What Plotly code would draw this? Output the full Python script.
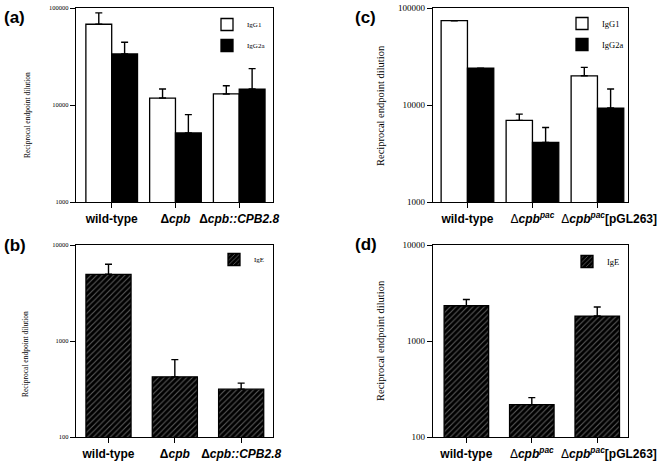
import plotly.graph_objects as go

# ---------------- data ----------------
cats_left = ["wild-type", "Δcpb", "Δcpb::CPB2.8"]
ticks_left = ["wild-type", "Δ<i>cpb</i>", "Δ<i>cpb::CPB2.8</i>"]
cats_right = ["wild-type", "Δcpb pac", "Δcpb pac [pGL263]"]
ticks_right = ["wild-type",
               "<span style='font-weight:normal'>Δ</span><i>cpb<sup>pac</sup></i>",
               "&nbsp;&nbsp;&nbsp;&nbsp;&nbsp;&nbsp;&nbsp;<span style='font-weight:normal'>Δ</span>"
               "<i>cpb<sup>pac</sup></i>[pGL263]"]

a_igg1 = [68000, 11800, 13000]
a_igg1_err = [21000, 2800, 2800]
a_igg2a = [33600, 5150, 14600]
a_igg2a_err = [10700, 2800, 9100]

b_ige = [4950, 423, 315]
b_ige_err = [1350, 217, 49]

c_igg1 = [74000, 6950, 20000]
c_igg1_err = [0, 1100, 4400]
c_igg2a = [24000, 4120, 9300]
c_igg2a_err = [0, 1750, 5300]

d_ige = [2330, 217, 1820]
d_ige_err = [380, 40, 440]

ytick_top = [1000, 10000, 100000]
ytick_bot = [100, 1000, 10000]

W, H = 658, 461
SERIF = "Liberation Serif"
SANS = "Liberation Sans"

def px_x(p):
    return p / W

def px_y(p):
    return 1 - p / H

fig = go.Figure()

def err(arr, cap):
    return dict(type="data", symmetric=False, array=arr, arrayminus=[0] * len(arr),
                color="black", thickness=1.4, width=cap)

# panel (a)
fig.add_trace(go.Bar(x=cats_left, y=a_igg1, name="IgG1", xaxis="x", yaxis="y",
                     marker=dict(color="white", line=dict(color="black", width=1.3)),
                     error_y=err(a_igg1_err, 3.5), legend="legend", legendgroup="a1"))
fig.add_trace(go.Bar(x=cats_left, y=a_igg2a, name="IgG2a", xaxis="x", yaxis="y",
                     marker=dict(color="black", line=dict(color="black", width=1.3)),
                     error_y=err(a_igg2a_err, 3.5), legend="legend", legendgroup="a2"))
# panel (c)
fig.add_trace(go.Bar(x=cats_right, y=c_igg1, name="IgG1", xaxis="x2", yaxis="y2",
                     marker=dict(color="white", line=dict(color="black", width=1.3)),
                     error_y=err(c_igg1_err, 3.5), legend="legend2", legendgroup="c1"))
fig.add_trace(go.Bar(x=cats_right, y=c_igg2a, name="IgG2a", xaxis="x2", yaxis="y2",
                     marker=dict(color="black", line=dict(color="black", width=1.3)),
                     error_y=err(c_igg2a_err, 3.5), legend="legend2", legendgroup="c2"))
# panel (b)
hatch = dict(shape="/", bgcolor="black", fgcolor="#b4b4b4", size=4, solidity=0.28, fillmode="overlay")
fig.add_trace(go.Bar(x=cats_left, y=b_ige, name="IgE", xaxis="x3", yaxis="y3",
                     marker=dict(color="black", pattern=hatch, line=dict(color="black", width=1.3)),
                     error_y=err(b_ige_err, 3.5), legend="legend3"))
# panel (d)
fig.add_trace(go.Bar(x=cats_right, y=d_ige, name="IgE", xaxis="x4", yaxis="y4",
                     marker=dict(color="black", pattern=hatch, line=dict(color="black", width=1.3)),
                     error_y=err(d_ige_err, 3.5), legend="legend4"))

def xax(dom, rng, cats, ticks, fs):
    return dict(domain=dom, range=rng, type="category", tickmode="array",
                tickvals=cats, ticktext=ticks, showline=True, linecolor="black",
                linewidth=1.3, mirror=True, ticks="outside", ticklen=5, tickwidth=1.2,
                tickcolor="black", tickangle=0, automargin=False,
                tickfont=dict(family=SANS, size=fs, color="black", weight="bold"),
                showgrid=False, zeroline=False, fixedrange=True)

def yax(dom, rng, vals, fs, anchor):
    return dict(domain=dom, type="log", range=rng, tickmode="array", tickvals=vals,
                ticktext=[str(v) for v in vals], showline=True, linecolor="black",
                linewidth=1.3, mirror=True, ticks="outside", ticklen=5, tickwidth=1.2,
                tickcolor="black", automargin=False,
                tickfont=dict(family=SERIF, size=fs, color="black"),
                showgrid=False, zeroline=False, anchor=anchor, fixedrange=True)

dom_x_left = [px_x(76), px_x(273)]
dom_x_right = [px_x(433), px_x(628)]
dom_y_top = [px_y(202), px_y(8)]
dom_y_bot = [px_y(437), px_y(245)]

fig.update_layout(
    width=W, height=H, margin=dict(l=0, r=0, t=0, b=0),
    paper_bgcolor="white", plot_bgcolor="white",
    barmode="group", showlegend=True,
    xaxis=xax(dom_x_left, [-0.56, 2.53], cats_left, ticks_left, 12) | dict(anchor="y"),
    yaxis=yax(dom_y_top, [3, 5], ytick_top, 6.5, "x"),
    xaxis2=xax(dom_x_right, [-0.53, 2.47], cats_right, ticks_right, 12) | dict(anchor="y2"),
    yaxis2=yax(dom_y_top, [3, 5], ytick_top, 9, "x2"),
    xaxis3=xax(dom_x_left, [-0.49, 2.48], cats_left, ticks_left, 12) | dict(anchor="y3"),
    yaxis3=yax(dom_y_bot, [2, 4], ytick_bot, 6.5, "x3"),
    xaxis4=xax(dom_x_right, [-0.51, 2.47], cats_right, ticks_right, 12) | dict(anchor="y4"),
    yaxis4=yax(dom_y_bot, [2, 4], ytick_bot, 9, "x4"),
    bargap=0.19,
    legend=dict(x=px_x(207), y=px_y(10), xanchor="left", yanchor="top",
                font=dict(family=SERIF, size=7, color="black"), bgcolor="rgba(0,0,0,0)",
                tracegroupgap=2, traceorder="grouped"),
    legend2=dict(x=px_x(562), y=px_y(9), xanchor="left", yanchor="top",
                 font=dict(family=SERIF, size=8.5, color="black"), bgcolor="rgba(0,0,0,0)",
                 tracegroupgap=2, traceorder="grouped"),
    legend3=dict(x=px_x(214), y=px_y(245), xanchor="left", yanchor="top",
                 font=dict(family=SERIF, size=7, color="black"), bgcolor="rgba(0,0,0,0)"),
    legend4=dict(x=px_x(567), y=px_y(247), xanchor="left", yanchor="top",
                 font=dict(family=SERIF, size=8.5, color="black"), bgcolor="rgba(0,0,0,0)"),
)

fig.update_traces(selector=dict(name="IgE"), width=0.68)

ann = []
for lbl, x, y in [("(a)", 2, 17), ("(c)", 353, 17), ("(b)", 2, 245), ("(d)", 353, 244)]:
    ann.append(dict(text="<b>" + lbl + "</b>", x=px_x(x), y=px_y(y), xref="paper", yref="paper",
                    xanchor="left", yanchor="middle", showarrow=False,
                    font=dict(family=SANS, size=17, color="black")))
for x, y, fs in [(27, 115, 7.5), (380, 106, 10.5), (25, 354, 7.5), (380, 341, 10.5)]:
    ann.append(dict(text="Reciprocal endpoint dilution", x=px_x(x), y=px_y(y), xref="paper",
                    yref="paper", xanchor="center", yanchor="middle", textangle=-90,
                    showarrow=False, font=dict(family=SERIF, size=fs, color="black")))
fig.update_layout(annotations=ann)

fig.write_html("out.html", config={"displayModeBar": False},
               post_script="document.body.style.margin='0';document.body.style.overflow='hidden';")
